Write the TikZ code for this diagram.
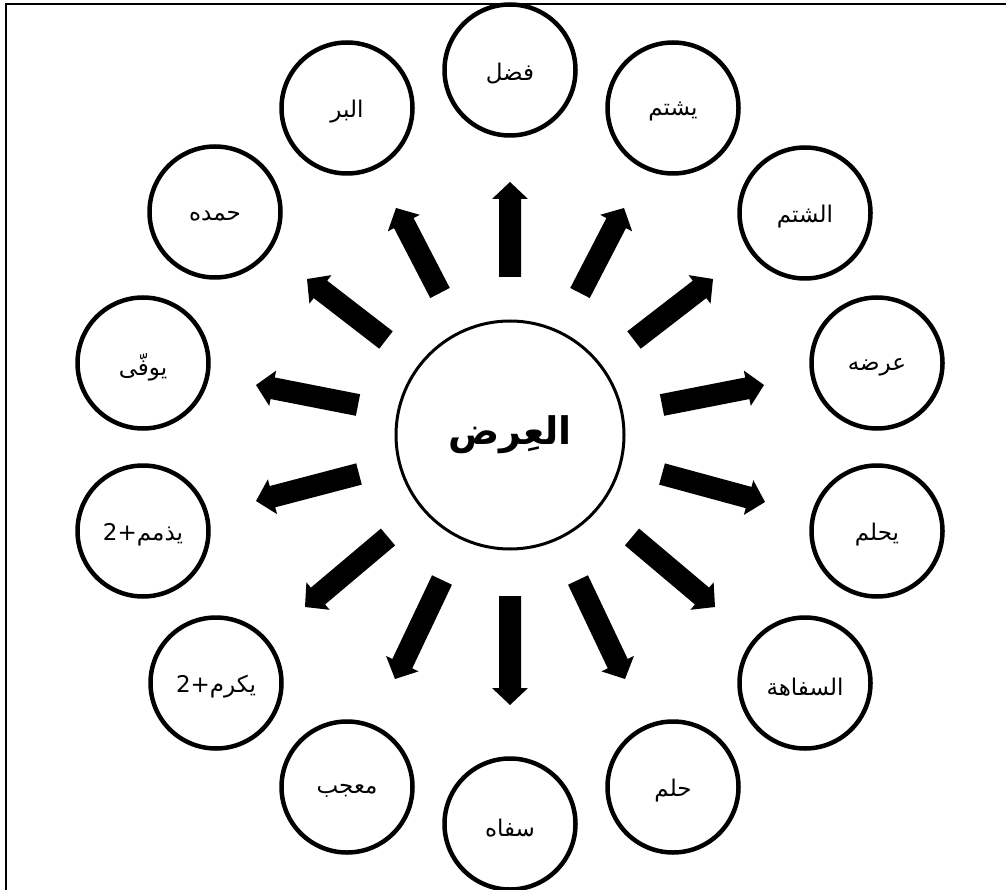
\documentclass[tikz,border=0pt]{standalone}
\usepackage{fontspec}
\usetikzlibrary{calc}
\TeXXeTstate=1
\newfontfamily\arabicfont[Script=Arabic]{DejaVu Sans}
\tikzset{
  leaf/.style={circle, draw, line width=4.5pt, minimum size=131pt, inner sep=0pt,
    font=\arabicfont\fontsize{23}{26}\selectfont},
  hub/.style={circle, draw, line width=3pt, minimum size=228pt, inner sep=0pt,
    font=\arabicfont\bfseries\fontsize{38}{42}\selectfont},
  frameline/.style={line width=2pt},
}
\newcommand\blockarrow[2]{%
  \path ($(#2)!17pt!(#1)$) coordinate (hb);
  \fill ($(#1)!11pt!90:(#2)$) -- ($(hb)!11pt!90:(#2)$) -- ($(hb)!18pt!90:(#2)$)
    -- (#2) -- ($(hb)!18pt!-90:(#2)$) -- ($(hb)!11pt!-90:(#2)$)
    -- ($(#1)!11pt!-90:(#2)$) -- cycle;
}
\newcommand\lowered[1]{\raisebox{-4pt}[\height][\depth]{\beginR #1\endR}}
\begin{document}
\begin{tikzpicture}[x=1pt,y=-1pt]
\useasboundingbox (0,0) rectangle (1006,890);
\clip (0,0) rectangle (1006,890);
\fill[white] (0,0) rectangle (1006,890);
\draw[frameline] (6,4) rectangle (1030,910);

\node[hub] (hub) at (510,435) {\beginR العِرض\endR};

\node[leaf] (n1)  at (510,70)  {\lowered{فضل}};
\node[leaf] (n2)  at (673,108) {\lowered{يشتم}};
\node[leaf] (n3)  at (805,213) {\lowered{الشتم}};
\node[leaf] (n4)  at (877,363) {\lowered{عرضه}};
\node[leaf] (n5)  at (877,531) {\lowered{يحلم}};
\node[leaf] (n6)  at (805,683) {\lowered{السفاهة}};
\node[leaf] (n7)  at (673,787) {\lowered{حلم}};
\node[leaf] (n8)  at (510,824) {\lowered{سفاه}};
\node[leaf] (n9)  at (347,787) {\lowered{معجب}};
\node[leaf] (n10) at (216,683) {\lowered{يكرم+2}};
\node[leaf] (n11) at (143,531) {\lowered{يذمم+2}};
\node[leaf] (n12) at (143,363) {\lowered{يوفّى}};
\node[leaf] (n13) at (215,212) {\lowered{حمده}};
\node[leaf] (n14) at (347,108) {\lowered{البر}};

\coordinate (t1)  at (510,277); \coordinate (p1)  at (510,182);
\coordinate (t2)  at (580,293); \coordinate (p2)  at (624,208);
\coordinate (t3)  at (634,340); \coordinate (p3)  at (713,279);
\coordinate (t4)  at (662,405); \coordinate (p4)  at (764,385);
\coordinate (t5)  at (662,474); \coordinate (p5)  at (765,502);
\coordinate (t6)  at (632,537); \coordinate (p6)  at (715,607);
\coordinate (t7)  at (578,580); \coordinate (p7)  at (625,679);
\coordinate (t8)  at (510,596); \coordinate (p8)  at (510,705);
\coordinate (t9)  at (442,580); \coordinate (p9)  at (395,679);
\coordinate (t10) at (388,537); \coordinate (p10) at (305,607);
\coordinate (t11) at (359,474); \coordinate (p11) at (256,501);
\coordinate (t12) at (358,405); \coordinate (p12) at (256,385);
\coordinate (t13) at (386,340); \coordinate (p13) at (307,279);
\coordinate (t14) at (440,293); \coordinate (p14) at (396,208);

\foreach \i in {1,...,14} {\blockarrow{t\i}{p\i}}
\end{tikzpicture}
\end{document}
